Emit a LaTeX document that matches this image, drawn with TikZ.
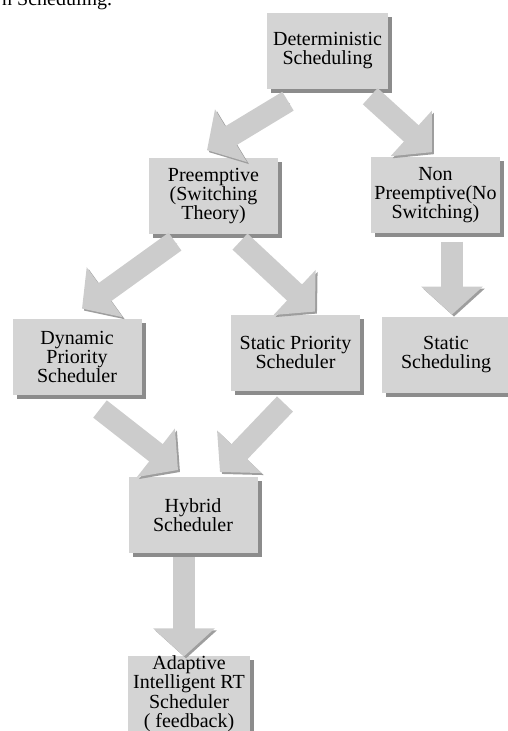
\documentclass[tikz,border=0pt]{standalone}
\usepackage{fontspec}
\setmainfont{Liberation Serif}
\usepackage{tikz}
\usetikzlibrary{arrows.meta, positioning, shadows}
\definecolor{boxgray}{gray}{0.83}
\definecolor{boxshade}{gray}{0.55}
\definecolor{arrowgray}{gray}{0.80}
\definecolor{arrowshade}{gray}{0.62}
\tikzset{
    block/.style={
        rectangle,
        fill=boxgray,
        minimum width=129pt,
        minimum height=76pt,
        inner sep=2pt,
        align=center,
        font=\fontsize{20}{19}\selectfont,
        drop shadow={shadow xshift=4pt, shadow yshift=-4pt, fill=boxshade, opacity=1}
    },
    flow/.style={
        draw=arrowgray,
        line width=22pt,
        -{Triangle[length=28pt, width=60pt]},
        preaction={draw=arrowshade, transform canvas={shift={(2pt,-2pt)}}}
    },
    captext/.style={
        anchor=base west,
        inner sep=0pt,
        font=\fontsize{20}{19}\selectfont
    }
}
\begin{document}
\begin{tikzpicture}[x=1pt, y=-1pt]
\useasboundingbox (0,0) rectangle (508,731);

% Caption fragment at the top edge
\node[captext] (cap) at (2,5) {n Scheduling.};

% Top level
\node[block, minimum width=121pt] (det) at (327.5,51) {Deterministic\\Scheduling};

% Second level
\node[block, below=69pt of det, xshift=-114pt] (pre) {Preemptive\\(Switching\\Theory)};
\node[block, below=68pt of det, xshift=108pt] (non) {Non\\Preemptive(No\\Switching)};

% Third level
\node[block, below=84pt of pre, xshift=-136.5pt] (dyn) {Dynamic\\Priority\\Scheduler};
\node[block, below=80pt of pre, xshift=82pt] (spr) {Static Priority\\Scheduler};
\node[block, below=83pt of non, xshift=10.5pt] (ssc) {Static\\Scheduling};

% Hybrid and adaptive
\node[block, below=82pt of dyn, xshift=116pt] (hyb) {Hybrid\\Scheduler};
\node[block, minimum width=122pt, inner ysep=0pt, font=\fontsize{20}{19.5}\selectfont,
      below=102pt of hyb, xshift=-4pt] (ada) {Adaptive\\Intelligent RT\\Scheduler\\( feedback)};

% Block arrows
\draw[flow] ([shift={(-39.5,12)}]det.south) -- ([shift={(-6.5,-8)}]pre.north);
\draw[flow] ([shift={(-18,7)}]det.south east) -- ([shift={(-3.5,-5)}]non.north);
\draw[flow] ([shift={(-38.5,7)}]pre.south) -- ([shift={(5,-10)}]dyn.north);
\draw[flow] ([shift={(26.5,7)}]pre.south) -- ([shift={(19.5,-3)}]spr.north);
\draw[flow] ([shift={(16.5,8)}]non.south) -- ([shift={(6,-2)}]ssc.north);
\draw[flow] ([shift={(23,14)}]dyn.south) -- ([shift={(-15,-7)}]hyb.north);
\draw[flow] ([shift={(-10.5,13)}]spr.south) -- ([shift={(27,-5)}]hyb.north);
\draw[flow] ([shift={(-9,4)}]hyb.south) -- ([shift={(-5,1)}]ada.north);

\end{tikzpicture}
\end{document}
